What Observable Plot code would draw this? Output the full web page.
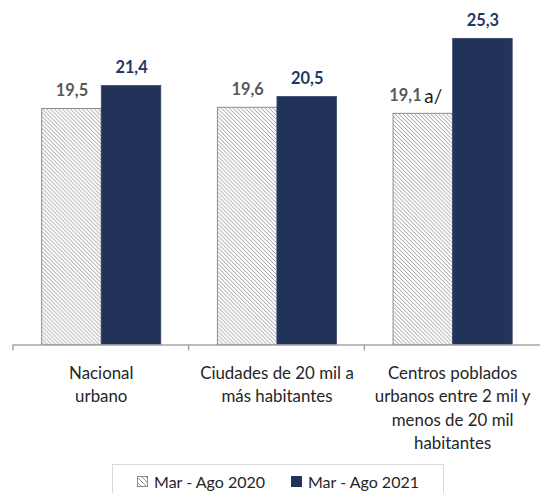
<!DOCTYPE html>
<html><head><meta charset="utf-8">
<script src="https://cdn.jsdelivr.net/npm/d3@7"></script>
<script src="https://cdn.jsdelivr.net/npm/@observablehq/plot@0.6"></script>
<style>
html,body{margin:0;padding:0;overflow:hidden;background:#fff;width:541px;height:493px;}
body{font-family:Lato, "Noto Sans", sans-serif;}
#chart svg{display:block;}
#legend{margin-left:112px;margin-top:5px;width:332px;height:40px;border:1px solid #d9d9d9;box-sizing:border-box;
  display:flex;justify-content:center;align-items:flex-start;padding-top:7px;font-size:16px;line-height:20px;color:#262626;}
.item{display:flex;align-items:center;margin:0 13px;}
.sw{width:11px;height:11px;margin-right:6px;box-sizing:border-box;}
.sw.h{border:1px solid #8c8c8c;background:repeating-linear-gradient(45deg,#fff 0 1.5px,#9a9a9a 1.5px 2.5px,#fff 2.5px 3.5px);}
</style></head><body>
<div id="chart"></div>
<div id="legend"></div>
<script>
const categories = ["Nacional\nurbano", "Ciudades de 20 mil a\nmás habitantes", "Centros poblados\nurbanos entre 2 mil y\nmenos de 20 mil\nhabitantes"];
const series = ["Mar - Ago 2020", "Mar - Ago 2021"];
const values2020 = [19.5, 19.6, 19.1];
const values2021 = [21.4, 20.5, 25.3];
const notes2020 = ["", "", "a/"];

const navy = "#213359";
const fmt = v => d3.format(".1f")(v).replace(".", ",");

const d2020 = categories.map((c, i) => ({category: c, series: series[0], value: values2020[i], note: notes2020[i]}));
const d2021 = categories.map((c, i) => ({category: c, series: series[1], value: values2021[i]}));

const chart = Plot.plot({
  width: 545, height: 462,
  marginLeft: 12, marginRight: 0, marginTop: 0, marginBottom: 115,
  style: {fontFamily: "Lato, 'Noto Sans', sans-serif", background: "#fff", overflow: "visible"},
  fx: {domain: categories, padding: 0, axis: null, label: null},
  x: {domain: series, paddingInner: 0, paddingOuter: 0.46, axis: null},
  y: {domain: [0, 28.47], axis: null},
  marks: [
    Plot.barY(d2020, {fx: "category", x: "series", y: "value", fill: "url(#hatch)", stroke: "#8c8c8c", strokeWidth: 1}),
    Plot.barY(d2021, {fx: "category", x: "series", y: "value", fill: navy, stroke: "#3a4a6e", strokeWidth: 0.8}),
    Plot.ruleY([0], {stroke: "#a6a6a6", strokeWidth: 1.5}),
    Plot.text(d2020.filter(d => !d.note), {fx: "category", x: "series", y: "value", text: d => fmt(d.value), dy: -18.5, fontSize: 16.5, fontWeight: "bold", fill: "#595959"}),
    Plot.text(d2020.filter(d => d.note), {fx: "category", x: "series", y: "value", text: d => fmt(d.value), dy: -18.5, dx: -18, fontSize: 16.5, fontWeight: "bold", fill: "#595959"}),
    Plot.text(d2020.filter(d => d.note), {fx: "category", x: "series", y: "value", text: "note", dy: -17.5, dx: 1, textAnchor: "start", fontSize: 19, fill: "#1a1a1a"}),
    Plot.text(d2021, {fx: "category", x: "series", y: "value", text: d => fmt(d.value), dy: -18.5, fontSize: 16.5, fontWeight: "bold", fill: "#1f3864"}),
    Plot.text(categories, {fx: d => d, text: d => d, frameAnchor: "bottom", lineAnchor: "top", dy: 17, lineHeight: 1.4, fontSize: 17, fill: "#262626"})
  ]
});

// hatch pattern
const svg = d3.select(chart);
const defs = svg.insert("defs", ":first-child");
const pat = defs.append("pattern").attr("id", "hatch").attr("patternUnits", "userSpaceOnUse").attr("width", 4).attr("height", 4);
pat.append("rect").attr("width", 4).attr("height", 4).attr("fill", "#fff");
pat.append("path").attr("d", "M0,0L4,4M-1,3L1,5M3,-1L5,1").attr("stroke", "#9a9a9a").attr("stroke-width", 1);

// category boundary ticks, from the library's scales
const fx = chart.scale("fx"), y = chart.scale("y");
const y0 = y.apply(0);
const g = svg.append("g").attr("stroke", "#a6a6a6").attr("stroke-width", 1.5);
categories.forEach(c => {
  const x0 = fx.apply(c);
  g.append("line").attr("x1", x0).attr("x2", x0).attr("y1", y0).attr("y2", y0 + 6);
});

document.getElementById("chart").appendChild(chart);

// legend
const legend = d3.select("#legend");
series.forEach((s, i) => {
  const it = legend.append("div").attr("class", "item");
  const sw = it.append("div").attr("class", i === 0 ? "sw h" : "sw");
  if (i === 1) sw.style("background", navy);
  it.append("span").text(s);
});
</script>
</body></html>
